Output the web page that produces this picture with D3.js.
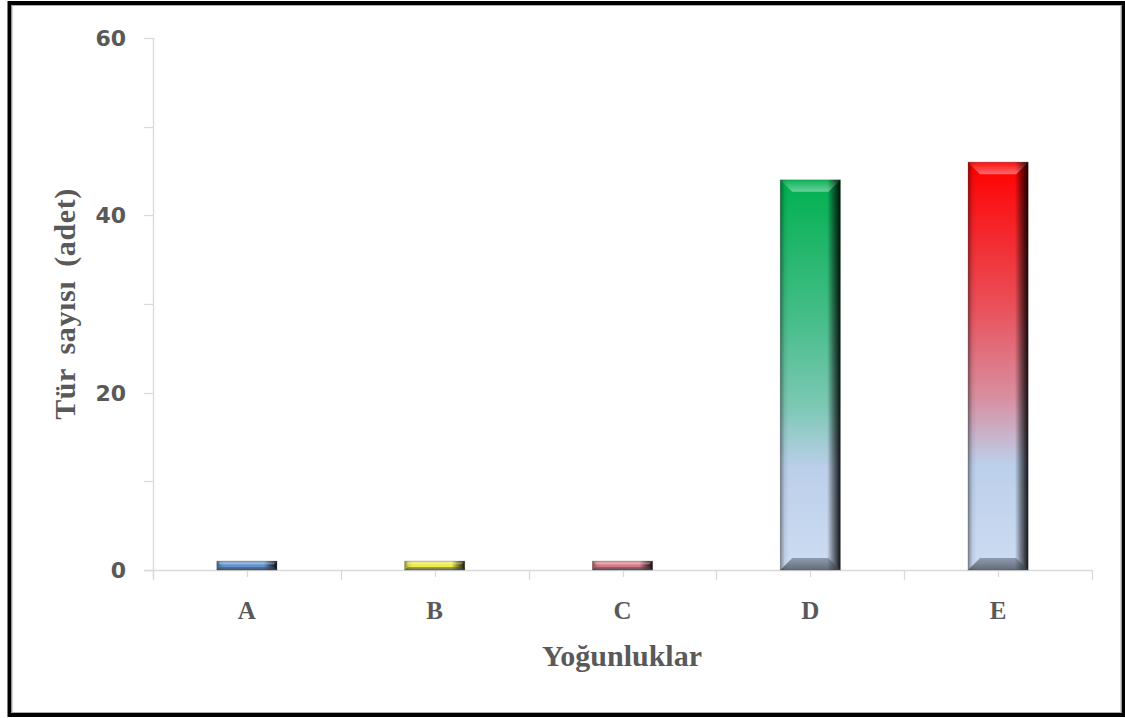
<!DOCTYPE html>
<html>
<head>
<meta charset="utf-8">
<script src="https://cdn.jsdelivr.net/npm/d3@7"></script>
<style>
  html, body { margin: 0; padding: 0; background: #fff; }
  svg { display: block; }
</style>
</head>
<body>
<script>
// Species count per density class
const categories = ["A", "B", "C", "D", "E"];
const values = [1, 1, 1, 44, 46];
const topColors = ["#5b8ccc", "#f2f23a", "#d86c78", "#00b050", "#ff0000"];
const midColors = ["#6f9ad0", "#e6e65a", "#d88a94", "#7cc8b4", "#d890a2"];
const yTicks = [0, 20, 40, 60];
const yMinorTicks = [0, 10, 20, 30, 40, 50, 60];

const W = 1125, H = 718;
const svg = d3.select("body").append("svg").attr("width", W).attr("height", H);
const defs = svg.append("defs");

const x = d3.scaleBand().domain(categories).range([153, 1092]).paddingInner(0).paddingOuter(0);
const y = d3.scaleLinear().domain([0, 60]).range([570, 38]);
const barW = x.bandwidth() * 0.32;

// Vertical colour gradients per bar: saturated top fading to pale blue at the base
categories.forEach((c, i) => {
  const g = defs.append("linearGradient").attr("id", "fill" + i)
    .attr("x1", 0).attr("y1", 0).attr("x2", 0).attr("y2", 1);
  const stops = values[i] > 5
    ? [[0, topColors[i]], [0.35, d3.interpolateRgb(topColors[i], midColors[i])(0.55)], [0.58, midColors[i]], [0.74, "#bccfea"], [1, "#cddcf2"]]
    : [[0, midColors[i]], [1, topColors[i]]];
  stops.forEach(s => g.append("stop").attr("offset", s[0]).attr("stop-color", s[1]));
});

// Horizontal shading for the bevelled sides
const side = defs.append("linearGradient").attr("id", "side").attr("x1", 0).attr("x2", 1).attr("y1", 0).attr("y2", 1e-6);
[[0, "rgba(0,0,0,0.4)"], [0.07, "rgba(0,0,0,0.08)"], [0.14, "rgba(0,0,0,0)"], [0.78, "rgba(0,0,0,0)"], [0.87, "rgba(0,0,0,0.4)"], [1, "rgba(0,0,0,0.9)"]]
  .forEach(s => side.append("stop").attr("offset", s[0]).attr("stop-color", s[1]));

const topBevel = defs.append("linearGradient").attr("id", "topBevel").attr("x1", 0).attr("x2", 0).attr("y1", 0).attr("y2", 1);
[[0, "rgba(255,255,255,0.05)"], [1, "rgba(255,255,255,0.4)"]]
  .forEach(s => topBevel.append("stop").attr("offset", s[0]).attr("stop-color", s[1]));

const botBevel = defs.append("linearGradient").attr("id", "botBevel").attr("x1", 0).attr("x2", 0).attr("y1", 0).attr("y2", 1);
[[0, "rgba(70,80,95,0.45)"], [1, "rgba(60,68,80,0.75)"]]
  .forEach(s => botBevel.append("stop").attr("offset", s[0]).attr("stop-color", s[1]));

// Outer frame
svg.append("rect").attr("x", 9.5).attr("y", 3).attr("width", 1114).attr("height", 712)
  .attr("fill", "none").attr("stroke", "#000").attr("stroke-width", 4);
svg.append("rect").attr("x", 12).attr("y", 5.5).attr("width", 1109).attr("height", 707)
  .attr("fill", "none").attr("stroke", "#aaa").attr("stroke-width", 1);

const axisColor = "#d9d9d9";

// Y axis line and ticks
svg.append("line").attr("x1", 153.5).attr("x2", 153.5).attr("y1", y(60)).attr("y2", 579)
  .attr("stroke", axisColor).attr("stroke-width", 1.3);
svg.selectAll(".ytick").data(yMinorTicks).join("line")
  .attr("x1", 144).attr("x2", 153.5)
  .attr("y1", d => Math.round(y(d)) + 0.5).attr("y2", d => Math.round(y(d)) + 0.5)
  .attr("stroke", axisColor).attr("stroke-width", 1.3);
svg.selectAll(".ylab").data(yTicks).join("text")
  .attr("x", 126).attr("y", d => y(d))
  .attr("dy", "0.36em")
  .attr("text-anchor", "end")
  .attr("font-family", "'DejaVu Sans', sans-serif").attr("font-weight", "bold")
  .attr("font-size", 22).attr("fill", "#595959")
  .text(d => d);

// X axis line, band boundary ticks and centre ticks
svg.append("line").attr("x1", 144).attr("x2", 1092).attr("y1", 570.5).attr("y2", 570.5)
  .attr("stroke", axisColor).attr("stroke-width", 1.3);
const bounds = categories.map(c => x(c)).concat([x.range()[1]]);
svg.selectAll(".xb").data(bounds).join("line")
  .attr("x1", d => Math.round(d) + 0.5).attr("x2", d => Math.round(d) + 0.5)
  .attr("y1", 570).attr("y2", 580)
  .attr("stroke", axisColor).attr("stroke-width", 1.3);
svg.selectAll(".xc").data(categories).join("line")
  .attr("x1", d => Math.round(x(d) + x.bandwidth() / 2) + 0.5)
  .attr("x2", d => Math.round(x(d) + x.bandwidth() / 2) + 0.5)
  .attr("y1", 570).attr("y2", 577)
  .attr("stroke", axisColor).attr("stroke-width", 1.3);

// Bars with bevelled faces
const bars = svg.selectAll(".bar").data(categories.map((c, i) => ({ c, v: values[i], i }))).join("g");
bars.each(function(d) {
  const g = d3.select(this);
  const x0 = x(d.c) + x.bandwidth() / 2 - barW / 2;
  const x1 = x0 + barW;
  const y0 = y(d.v), yb = y(0);
  const h = yb - y0;
  const b = Math.min(12, h * 0.35);
  g.append("rect").attr("x", x0).attr("y", y0).attr("width", barW).attr("height", h)
    .attr("fill", `url(#fill${d.i})`);
  g.append("rect").attr("x", x0).attr("y", y0).attr("width", barW).attr("height", h)
    .attr("fill", "url(#side)");
  g.append("polygon")
    .attr("points", [[x0, y0], [x1, y0], [x1 - b, y0 + b], [x0 + b, y0 + b]].map(p => p.join(",")).join(" "))
    .attr("fill", "url(#topBevel)");
  g.append("polygon")
    .attr("points", [[x0, yb], [x1, yb], [x1 - b, yb - b], [x0 + b, yb - b]].map(p => p.join(",")).join(" "))
    .attr("fill", "url(#botBevel)");
  g.append("rect").attr("x", x0).attr("y", y0).attr("width", barW).attr("height", h)
    .attr("fill", "none").attr("stroke", "rgba(60,60,60,0.35)").attr("stroke-width", 0.8);
});

// Category labels
svg.selectAll(".xlab").data(categories).join("text")
  .attr("x", d => x(d) + x.bandwidth() / 2).attr("y", 619)
  .attr("text-anchor", "middle")
  .attr("font-family", "'Liberation Serif', 'Times New Roman', serif").attr("font-weight", "bold")
  .attr("font-size", 25).attr("fill", "#595959")
  .text(d => d);

// Axis titles
svg.append("text").attr("x", 622).attr("y", 666)
  .attr("text-anchor", "middle")
  .attr("font-family", "'Liberation Serif', 'Times New Roman', serif").attr("font-weight", "bold")
  .attr("font-size", 30).attr("fill", "#595959")
  .text("Yoğunluklar");

svg.append("text")
  .attr("transform", "translate(75,304) rotate(-90)")
  .attr("text-anchor", "middle")
  .attr("font-family", "'Liberation Serif', 'Times New Roman', serif").attr("font-weight", "bold")
  .attr("font-size", 30).attr("fill", "#595959")
  .attr("letter-spacing", 0.6)
  .attr("word-spacing", 6)
  .text("Tür sayısı (adet)");
</script>
</body>
</html>
